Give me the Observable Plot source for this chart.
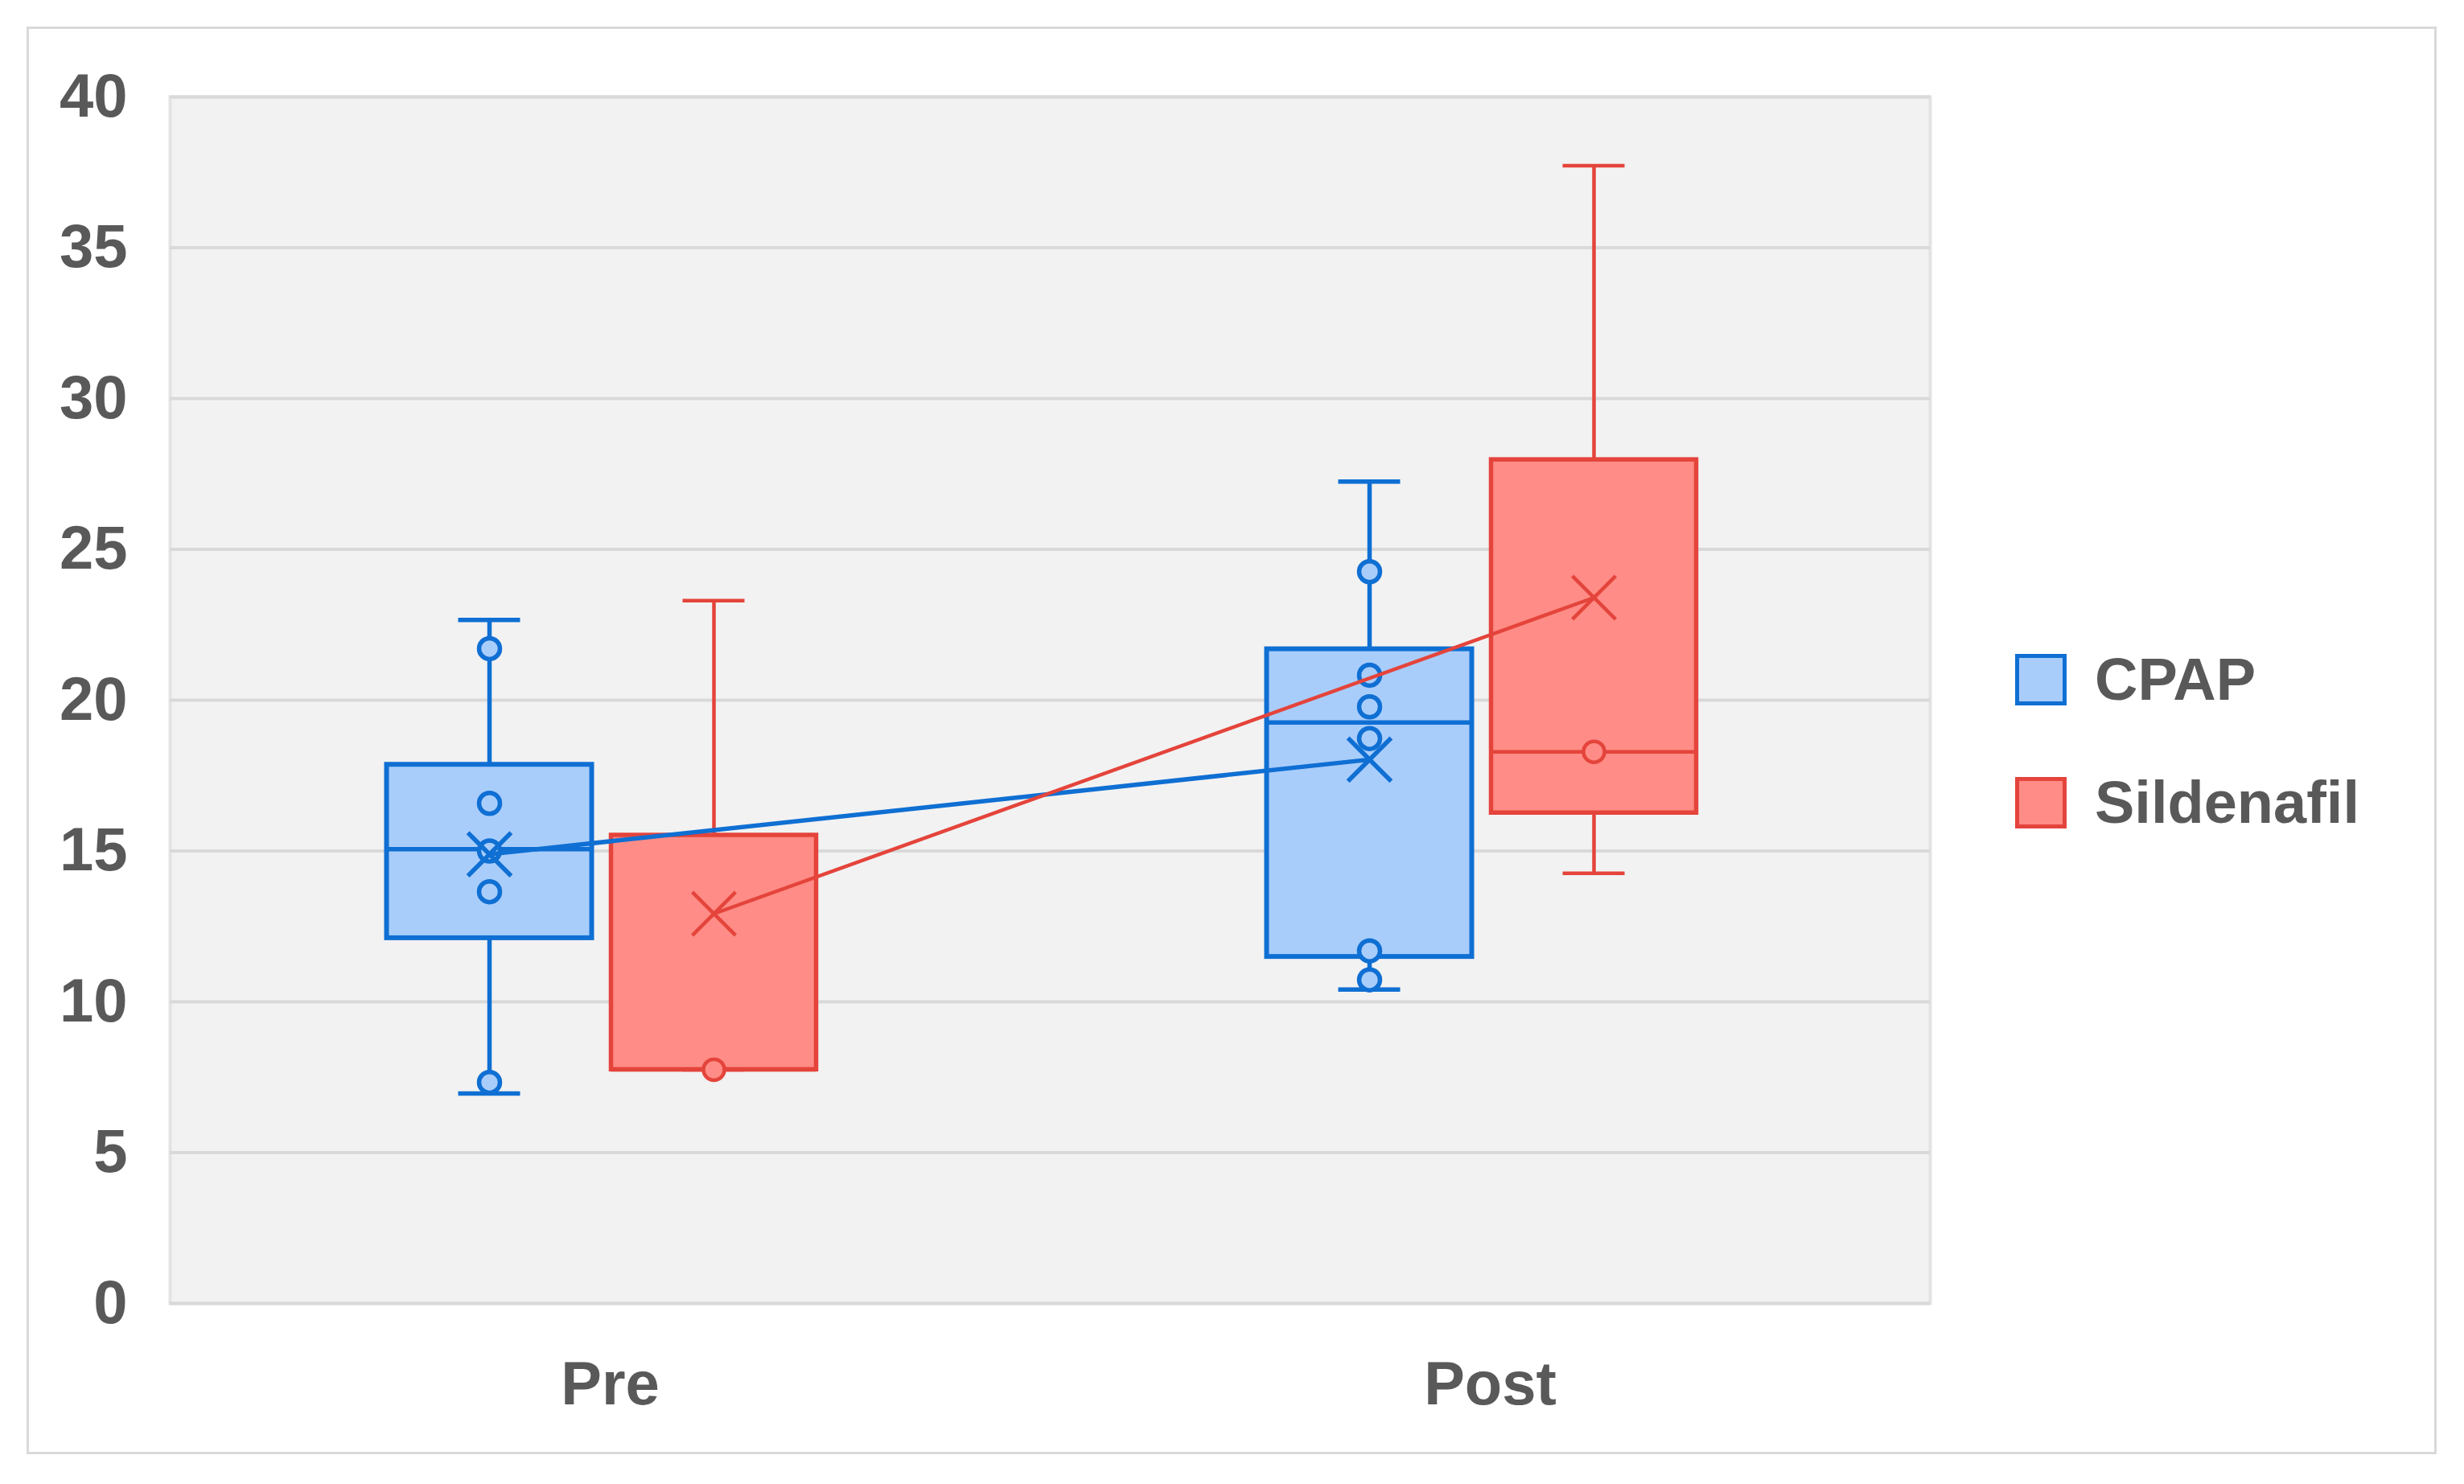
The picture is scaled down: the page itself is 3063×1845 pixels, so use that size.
<!DOCTYPE html>
<html>
<head>
<meta charset="utf-8">
<script src="https://cdn.jsdelivr.net/npm/d3@7"></script>
<script src="https://cdn.jsdelivr.net/npm/@observablehq/plot@0.6"></script>
<style>
  body { margin: 0; background: #fff; }
  #wrap { position: relative; width: 3063px; height: 1845px; background: #fff; font-family: "Liberation Sans", Arial, sans-serif; }
  #chart { position: absolute; left: 0; top: 0; }
  #border { position: absolute; left: 33px; top: 33px; width: 2996px; height: 1775px; box-sizing: border-box; border: 3px solid #d9d9d9; pointer-events: none; }
  .legend-item { position: absolute; left: 2505px; height: 74px; display: flex; align-items: center; font-weight: bold; font-size: 74px; line-height: 74px; color: #595959; white-space: nowrap; }
  .swatch { width: 64px; height: 64px; box-sizing: border-box; border: 5px solid; margin-right: 35px; }
</style>
</head>
<body>
<div id="wrap">
  <div id="chart"></div>
  <div id="border"></div>
  <div id="legend"></div>
</div>
<script>
// ---- Data ----
const categories = ["Pre", "Post"];
const groups = ["CPAP", "Sildenafil"];
const yTicks = [0, 5, 10, 15, 20, 25, 30, 35, 40];

const cpapMin    = [6.96, 10.41];
const cpapQ1     = [12.11, 11.49];
const cpapMedian = [15.06, 19.26];
const cpapQ3     = [17.86, 21.69];
const cpapMax    = [22.66, 27.25];
const cpapMean   = [14.89, 18.03];
const cpapPointsPre  = [21.71, 16.58, 15.0, 13.65, 7.33];
const cpapPointsPost = [24.26, 20.83, 19.78, 18.73, 11.69, 10.73];

const sildMin    = [7.75, 14.26];
const sildQ1     = [7.75, 16.26];
const sildMedian = [7.75, 18.29];
const sildQ3     = [15.52, 27.97];
const sildMax    = [23.30, 37.72];
const sildMean   = [12.92, 23.40];
const sildPointsPre  = [7.75];
const sildPointsPost = [18.29];

// ---- Tables built from the arrays ----
const stats = {
  CPAP: {min: cpapMin, q1: cpapQ1, median: cpapMedian, q3: cpapQ3, max: cpapMax, mean: cpapMean, points: [cpapPointsPre, cpapPointsPost]},
  Sildenafil: {min: sildMin, q1: sildQ1, median: sildMedian, q3: sildQ3, max: sildMax, mean: sildMean, points: [sildPointsPre, sildPointsPost]}
};
function rowsFor(g) {
  const s = stats[g];
  return categories.map((c, i) => ({category: c, group: g, min: s.min[i], q1: s.q1[i], median: s.median[i], q3: s.q3[i], max: s.max[i], mean: s.mean[i]}));
}
function pointsFor(g) {
  const s = stats[g];
  return categories.flatMap((c, i) => s.points[i].map(v => ({category: c, group: g, value: v})));
}

// ---- Styles ----
const look = {
  CPAP:       {stroke: "#0f6fd3", fill: "#a9cdfb", dx: -150, box: 6, line: 5.5},
  Sildenafil: {stroke: "#e4443b", fill: "#ff8c86", dx: 129, box: 5.5, line: 4.5}
};
const boxInset = 419.5;  // box width ~255px within a 1094px band
const capInset = 508.5;  // cap width ~77px

const marks = [
  Plot.frame({fill: "#f2f2f2", stroke: "#e3e3e3", strokeWidth: 4}),
  Plot.gridY(yTicks, {stroke: "#d9d9d9", strokeOpacity: 1, strokeWidth: 4}),
  Plot.axisY(yTicks, {tickSize: 0, tickPadding: 53}),
  Plot.axisX({tickSize: 0, tickPadding: 72})
];

for (const g of groups) {
  const rows = rowsFor(g);
  const L = look[g];
  marks.push(
    Plot.ruleX(rows, {x: "category", y1: "min", y2: "max", stroke: L.stroke, strokeWidth: L.line, dx: L.dx}),
    Plot.tickY(rows, {x: "category", y: "min", stroke: L.stroke, strokeWidth: L.line, insetLeft: capInset, insetRight: capInset, dx: L.dx}),
    Plot.tickY(rows, {x: "category", y: "max", stroke: L.stroke, strokeWidth: L.line, insetLeft: capInset, insetRight: capInset, dx: L.dx}),
    Plot.barY(rows, {x: "category", y1: "q1", y2: "q3", fill: L.fill, stroke: L.stroke, strokeWidth: L.box, insetLeft: boxInset, insetRight: boxInset, dx: L.dx})
  );
}
for (const g of groups) {
  const rows = rowsFor(g);
  const L = look[g];
  marks.push(
    Plot.tickY(rows, {x: "category", y: "median", stroke: L.stroke, strokeWidth: L.line, insetLeft: boxInset, insetRight: boxInset, dx: L.dx}),
    Plot.dot(pointsFor(g), {x: "category", y: "value", r: 13, fill: L.fill, stroke: L.stroke, strokeWidth: L.line, dx: L.dx}),
    Plot.dot(rows, {x: "category", y: "mean", symbol: "times", r: 24.5, stroke: L.stroke, strokeWidth: L.line, dx: L.dx})
  );
}
for (const g of groups) {
  const L = look[g];
  marks.push(Plot.line(rowsFor(g), {x: "category", y: "mean", stroke: L.stroke, strokeWidth: L.line, dx: L.dx}));
}

const chart = Plot.plot({
  width: 2460,
  height: 1845,
  marginLeft: 211,
  marginRight: 61,
  marginTop: 120,
  marginBottom: 225,
  style: {fontFamily: "'Liberation Sans', Arial, sans-serif", fontSize: "76px", fontWeight: "bold", color: "#595959", background: "transparent", overflow: "visible"},
  x: {domain: categories, padding: 0, label: null},
  y: {domain: [0, 40], label: null},
  marks
});
document.getElementById("chart").appendChild(chart);

// ---- Legend (HTML) ----
const legend = document.getElementById("legend");
const legendTop = {CPAP: 807.5, Sildenafil: 960.5};
for (const g of groups) {
  const item = document.createElement("div");
  item.className = "legend-item";
  item.style.top = legendTop[g] + "px";
  const sw = document.createElement("div");
  sw.className = "swatch";
  sw.style.background = look[g].fill;
  sw.style.borderColor = look[g].stroke;
  const tx = document.createElement("span");
  tx.textContent = g;
  item.appendChild(sw);
  item.appendChild(tx);
  legend.appendChild(item);
}
</script>
</body>
</html>
